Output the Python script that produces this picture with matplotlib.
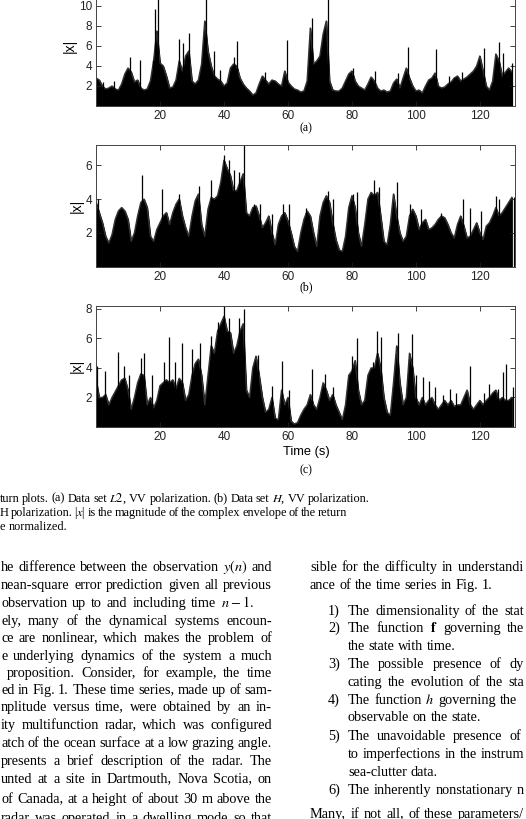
import numpy as np
import matplotlib
matplotlib.use("Agg")
import matplotlib.pyplot as plt

plt.rcParams['mathtext.fontset'] = 'stix'

# envelope of |x| read once per second, t = 0..130 s
time_s = np.arange(131)

env_a = [2.8, 2.6, 2.0, 1.7, 1.8, 2.0, 1.7, 1.6, 2.2, 3.2,
         3.8, 3.4, 2.4, 2.6, 1.8, 1.6, 1.7, 2.5, 4.5, 7.5,
         4.3, 4.0, 3.0, 1.8, 1.9, 2.6, 4.5, 3.5, 5.0, 5.5,
         2.5, 2.2, 2.6, 4.2, 8.5, 5.5, 4.0, 3.0, 2.7, 2.5,
         2.0, 2.3, 3.8, 4.2, 4.0, 2.8, 2.2, 1.8, 1.5, 1.1,
         1.3, 2.2, 3.0, 2.6, 2.2, 2.6, 2.5, 2.2, 2.0, 3.5,
         2.4, 2.0, 1.7, 1.6, 1.4, 1.5, 2.5, 7.8, 4.2, 4.5,
         5.0, 7.2, 8.5, 2.5, 1.6, 1.5, 1.5, 1.8, 2.5, 3.2,
         3.5, 2.5, 2.0, 1.8, 1.6, 2.2, 2.9, 2.5, 1.8, 1.5,
         1.6, 1.4, 1.5, 2.3, 2.7, 1.8, 2.8, 3.8, 2.8, 2.0,
         1.5, 1.6, 1.3, 2.0, 2.6, 2.8, 3.3, 2.0, 1.8, 1.9,
         2.2, 2.4, 2.8, 3.0, 2.5, 2.7, 2.9, 3.2, 3.5, 4.0,
         5.0, 3.5, 2.0, 1.6, 2.5, 5.2, 4.5, 3.0, 3.4, 3.8,
         3.4]
spike_ta = [2.2, 5.5, 8.5, 10.6, 13.8, 17.7, 18.6, 19.4, 26.1, 27.2, 29.2,
            33.5, 34.5, 36.8, 38.7, 43.3, 44.2, 52.9, 59.7, 67.5, 70.3,
            71.6, 72.6, 80.5, 87.1, 94.4, 97.4, 106.2, 110.5, 112.0, 114.3,
            121.4, 126.1, 127.4, 130.0]
spike_ha = [2.4, 2.5, 2.2, 4.9, 4.6, 4.6, 9.7, 11.8, 6.7, 6.3, 7.3,
            5.1, 11.8, 5.5, 3.6, 4.9, 6.5, 3.4, 6.6, 8.8, 5.2,
            7.6, 11.8, 3.8, 3.5, 3.3, 5.9, 5.7, 3.0, 2.8, 3.4,
            5.8, 6.4, 5.3, 4.3]

env_b = [3.8, 3.2, 2.6, 1.8, 1.4, 1.9, 2.8, 3.3, 3.5, 3.3,
         2.8, 1.5, 2.0, 3.0, 3.8, 4.0, 3.5, 1.8, 1.5, 2.2,
         2.6, 3.0, 3.2, 2.5, 3.2, 3.7, 4.0, 3.0, 2.3, 1.8,
         3.0, 3.9, 4.3, 2.5, 1.8, 3.4, 4.1, 4.0, 4.2, 5.0,
         6.3, 5.8, 5.4, 4.5, 4.5, 5.0, 5.5, 3.2, 3.0, 3.5,
         3.6, 3.0, 2.3, 2.6, 3.0, 2.0, 1.3, 2.5, 3.0, 3.2,
         2.7, 2.0, 1.2, 0.9, 2.0, 2.8, 3.3, 3.0, 2.0, 1.2,
         3.0, 3.8, 4.2, 3.8, 2.6, 1.6, 1.0, 0.9, 1.8, 3.5,
         4.2, 3.5, 2.0, 1.2, 2.5, 4.0, 4.4, 4.2, 4.4, 3.0,
         1.5, 1.3, 2.5, 4.3, 3.0, 2.0, 1.5, 1.8, 3.0, 3.4,
         3.0, 2.2, 2.6, 2.8, 2.2, 2.3, 2.5, 2.8, 3.0, 2.9,
         2.5, 2.0, 1.7, 2.5, 3.0, 2.4, 1.7, 1.8, 2.2, 2.6,
         2.0, 1.6, 2.4, 2.6, 3.0, 3.5, 3.0, 3.2, 3.5, 3.8,
         4.1]
spike_tb = [0.7, 14.3, 20.5, 26.0, 32.3, 36.1, 40.1, 41.6, 43.1, 44.7,
            46.3, 49.4, 51.2, 54.9, 58.5, 60.2, 65.8, 72.6, 74.1, 80.4,
            81.6, 86.8, 88.5, 94.0, 98.3, 101.7, 107.9, 114.6, 116.9,
            120.3, 125.0, 126.0, 130.6]
spike_hb = [4.0, 5.4, 4.6, 4.3, 4.8, 5.1, 6.6, 6.3, 5.7, 5.6,
            7.2, 3.7, 3.7, 3.1, 3.7, 3.7, 3.5, 4.5, 4.0, 4.3,
            4.4, 5.1, 4.7, 5.0, 3.7, 3.4, 3.2, 4.0, 3.5,
            3.3, 4.2, 4.0, 4.1]

env_c = [3.2, 2.0, 2.0, 2.2, 1.5, 2.0, 2.4, 2.8, 3.2, 3.3,
         2.5, 1.2, 2.0, 3.0, 3.6, 3.5, 1.5, 2.0, 1.3, 1.8,
         2.8, 3.0, 3.2, 3.0, 3.2, 2.6, 3.3, 3.0, 1.8, 2.2,
         3.5, 4.3, 4.6, 3.5, 1.5, 3.5, 5.5, 5.0, 6.5, 7.0,
         7.5, 6.5, 6.4, 5.0, 5.5, 6.5, 7.0, 2.5, 2.0, 4.0,
         4.8, 3.5, 2.0, 1.0, 1.2, 2.0, 0.6, 0.5, 2.5, 1.5,
         2.0, 0.4, 0.2, 0.3, 0.8, 1.2, 1.5, 2.2, 1.5, 1.2,
         2.0, 3.0, 2.5, 1.8, 2.2, 1.5, 1.0, 0.5, 1.5, 3.5,
         3.8, 4.5, 2.5, 1.5, 1.8, 3.5, 4.0, 4.0, 5.0, 4.0,
         2.0, 1.0, 0.8, 3.0, 5.5, 3.0, 1.5, 2.0, 5.0, 4.0,
         2.0, 1.5, 2.0, 1.5, 1.8, 2.0, 1.5, 1.2, 1.5, 1.8,
         1.5, 1.8, 1.4, 1.5, 1.5, 2.0, 2.5, 1.5, 1.2, 1.5,
         1.8, 1.5, 1.8, 2.0, 2.3, 2.5, 1.8, 2.0, 1.8, 1.8,
         2.0]
spike_tc = [0.4, 2.8, 7.0, 8.8, 10.4, 14.0, 15.0, 17.4, 21.2, 22.9, 24.6,
            27.0, 29.9, 32.4, 36.1, 38.0, 40.1, 41.6, 44.8, 46.2, 50.7,
            54.9, 58.3, 60.4, 67.5, 71.6, 74.2, 79.9, 81.6, 86.5, 88.0,
            89.0, 94.3, 98.8, 99.9, 102.3, 104.2, 106.0, 108.5, 110.6,
            112.7, 115.8, 116.9, 121.3, 122.9, 125.7, 127.1, 128.3, 130.4]
spike_hc = [4.1, 3.8, 5.1, 4.1, 3.5, 4.7, 5.0, 3.5, 4.4, 6.1, 4.4,
            5.7, 5.3, 5.7, 6.2, 7.1, 8.3, 7.4, 7.4, 8.0, 4.9,
            2.8, 4.5, 2.5, 3.9, 3.6, 2.7, 4.8, 6.0, 4.4, 6.5,
            6.1, 6.4, 6.3, 3.5, 3.4, 3.1, 2.7, 2.2, 2.6,
            2.3, 2.2, 4.1, 2.3, 2.9, 2.6, 3.7, 4.3, 2.7]

x_ticks = [20, 40, 60, 80, 100, 120]
panels = [
    (env_a, spike_ta, spike_ha, 12.0, [2, 4, 6, 8, 10], (-14, 106)),
    (env_b, spike_tb, spike_hb, 7.2, [2, 4, 6], (145, 266.7)),
    (env_c, spike_tc, spike_hc, 8.22, [2, 4, 6, 8], (305.7, 427)),
]

# page text: (y of x-height middle, x start, x end or None, text)
caption = [
    (499, 0, 370, 'turn plots. (a) Data set $L2$, VV polarization. (b) Data set $H$, VV polarization.'),
    (513, 0, 347, 'H polarization. |$x$| is the magnitude of the complex envelope of the return'),
    (527, 0, None, 'e normalized.'),
]
left_col = [
    (568, 1, 272, 'he difference between the observation $y(n)$ and'),
    (586, 1, 272, 'nean-square error prediction given all previous'),
    (604, 1, 254, 'observation up to and including time $n-1$.'),
    (622, 1, 272, 'ely, many of the dynamical systems encoun-'),
    (639, 1, 272, 'ce are nonlinear, which makes the problem of'),
    (657, 1, 272, 'e underlying dynamics of the system a much'),
    (674, 7, 272, 'proposition. Consider, for example, the time'),
    (691, 1, 272, 'ed in Fig. 1. These time series, made up of sam-'),
    (708, 1, 272, 'nplitude versus time, were obtained by an in-'),
    (726, 1, 272, 'ity multifunction radar, which was configured'),
    (744, 1, 272, 'atch of the ocean surface at a low grazing angle.'),
    (762, 1, 272, 'presents a brief description of the radar. The'),
    (780, 1, 272, 'unted at a site in Dartmouth, Nova Scotia, on'),
    (800, 1, 272, 'of Canada, at a height of about 30 m above the'),
    (819, 1, 272, 'radar was operated in a dwelling mode so that'),
]
right_col = [
    (568, 310, 524, 'sible for the difficulty in understandi'),
    (586, 310, None, 'ance of the time series in Fig. 1.'),
    (612, 348, 524, 'The dimensionality of the stat'),
    (629, 348, 524, r'The function $\mathbf{f}$ governing the'),
    (647, 348, None, 'the state with time.'),
    (665, 348, 524, 'The possible presence of dy'),
    (683, 348, 524, 'cating the evolution of the sta'),
    (701, 348, 517, 'The function $h$ governing the'),
    (718, 348, None, 'observable on the state.'),
    (737, 348, 521, 'The unavoidable presence of'),
    (755, 348, 524, 'to imperfections in the instrum'),
    (773, 348, None, 'sea-clutter data.'),
    (791, 348, 524, 'The inherently nonstationary n'),
    (815, 310, 524, 'Many, if not all, of these parameters/'),
]
item_nums = [(612, '1)'), (629, '2)'), (665, '3)'), (701, '4)'), (737, '5)'), (791, '6)')]

W, H = 526, 819
fig = plt.figure(figsize=(W / 100, H / 100), dpi=100)
renderer = fig.canvas.get_renderer()

def fx(x):
    return x / W

def fy(y):
    return 1 - y / H

serif = 'Liberation Serif'
sans = 'Liberation Sans'

for env, st, sh, ytop, yt, (top, bot) in panels:
    ax = fig.add_axes([fx(96), fy(bot), fx(515) - fx(96), fy(top) - fy(bot)])
    ax.fill_between(time_s, 0, env, color='black', lw=0.8)
    ax.plot(time_s, env, color='#333333', lw=1.0)
    ax.vlines(st, 0, sh, color='black', lw=0.9)
    ax.set_xlim(0, 131)
    ax.set_ylim(0, ytop)
    ax.set_xticks(x_ticks)
    ax.set_yticks(yt)
    ax.tick_params(direction='in', top=True, right=True, length=3.5,
                   width=0.6, labelsize=8.5, pad=3, colors='#222222')
    for lab in ax.get_xticklabels() + ax.get_yticklabels():
        lab.set_family(sans)
    for sp in ax.spines.values():
        sp.set_linewidth(0.7)
        sp.set_color('#444444')
    ax.set_ylabel('|x|', family=sans, fontsize=10, labelpad=1)

fig.text(fx(306), fy(128), '(a)', family=serif, fontsize=8.5, ha='center', va='center')
fig.text(fx(306), fy(287), '(b)', family=serif, fontsize=8.5, ha='center', va='center')
fig.text(fx(306), fy(452), 'Time (s)', family=sans, fontsize=9.3, ha='center', va='center')
fig.text(fx(306), fy(470), '(c)', family=serif, fontsize=8.5, ha='center', va='center')


def baseline(y, size):
    # just under a whole pixel, so every word of a line lands on the same row
    return fy(np.round(y + size * 0.33) - 0.49)


def put_line(y, x0, x1, s, size):
    # justified line: spread the words evenly between x0 and x1
    words = s.split(' ')
    texts = [fig.text(0, baseline(y, size), w, family=serif, fontsize=size,
                      va='baseline') for w in words]
    widths = [t.get_window_extent(renderer).width for t in texts]
    if x1 is None or len(words) == 1:
        gap = size * 0.25 * 100 / 72
    else:
        gap = (x1 - x0 - sum(widths)) / (len(words) - 1)
    x = x0
    for t, w in zip(texts, widths):
        t.set_x(fx(x))
        x += w + gap


for y, x0, x1, s in caption:
    put_line(y, x0, x1, s, 8.8)
for y, x0, x1, s in left_col + right_col:
    put_line(y, x0, x1, s, 10.3)
for y, s in item_nums:
    fig.text(fx(328), baseline(y, 10.3), s, family=serif, fontsize=10.3, va='baseline')

fig.savefig('out.png', dpi=100)
